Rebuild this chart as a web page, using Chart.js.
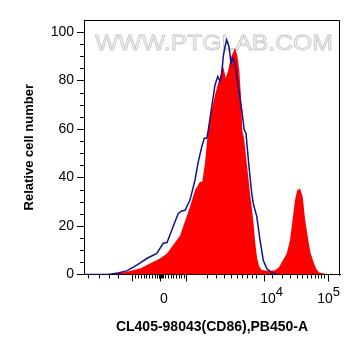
<!DOCTYPE html>
<html>
<head>
<meta charset="utf-8">
<script src="https://cdn.jsdelivr.net/npm/chart.js@4/dist/chart.umd.min.js"></script>
<style>
  html, body { margin: 0; padding: 0; background: #fff; }
  canvas { display: block; }
</style>
</head>
<body>
<canvas id="c" width="361" height="356"></canvas>
<script>
// x positions are in display channels (0..1024) of the biexponential axis
const redX = [0, 96, 136, 172, 224, 264, 304, 332, 356, 384, 404, 424, 444, 464, 473, 484, 495, 508, 524, 537, 548, 553, 560, 567, 577, 587, 595, 604, 613, 621, 628, 633, 641, 651, 664, 677, 684, 692, 700, 710, 724, 744, 764, 780, 796, 811, 824, 831, 844, 853, 864, 875, 884, 897, 906, 917, 928, 940, 964, 992, 1024];
const redY = [0, 0, 0.5, 1.1, 2.5, 4.5, 6.6, 8.7, 12.1, 16, 22, 28, 34.8, 38.3, 38.3, 45.9, 58.3, 66.5, 74.1, 78.9, 83, 87.2, 84.4, 81, 84.4, 89.3, 91.3, 93.4, 90.6, 84.4, 73.4, 59.6, 55.5, 45.9, 33.5, 22.4, 14, 7, 3.5, 2, 1.6, 1.5, 1.8, 3, 6, 8.7, 14.2, 19.7, 30.7, 34.8, 35.5, 32, 23, 14.2, 9, 5.5, 2.5, 0.8, 0.3, 0.1, 0];

const blueX = [0, 96, 136, 171, 211, 251, 291, 317, 332, 351, 364, 377, 391, 404, 424, 444, 457, 471, 481, 491, 497, 511, 524, 535, 544, 551, 557, 564, 571, 580, 588, 595, 604, 611, 620, 631, 641, 648, 655, 664, 671, 677, 691, 704, 717, 731, 751, 771];
const blueY = [0, 0, 0.6, 1.5, 3.9, 6.6, 8.7, 12.9, 13.2, 18.3, 21.8, 25.2, 26.2, 26.5, 30.7, 39, 46.5, 52.7, 56.2, 56.2, 59.6, 69.3, 78.2, 81.7, 79.6, 83, 89.9, 94, 96.8, 94, 87.2, 89.3, 87.2, 81.7, 75.5, 67.9, 59.6, 58.3, 50, 40.3, 33.5, 29.3, 24, 14.2, 5.9, 2.5, 0.7, 0];

const xTickValues = [194, 304, 410, 720, 977];
const xTickLabels = ['', '0', '', '10^4', '10^5'];
const xMinorTicks = [16, 60, 100, 136, 205, 216, 227, 238, 249, 260, 271, 282, 293, 298, 301, 307, 310, 315, 325, 336, 346, 357, 368, 378, 389, 399,
                     492, 528, 560, 588, 612, 632, 652, 672, 688,
                     752, 792, 824, 852, 872, 890, 906, 922, 934, 946, 958];
const yTickValues = [0, 20, 40, 60, 80, 100];
const yMinorTicks = [5, 10, 15, 25, 30, 35, 45, 50, 55, 65, 70, 75, 85, 90, 95];

const xTitle = 'CL405-98043(CD86),PB450-A';
const yTitle = 'Relative cell number';
const watermarkText = 'WWW.PTGLAB.COM';

const FONT = '"Liberation Sans", Arial, Helvetica, sans-serif';

const decor = {
  id: 'decor',
  beforeDatasetsDraw(chart) {
    const {ctx, chartArea} = chart;
    ctx.save();
    ctx.font = '22px ' + FONT;
    const w = ctx.measureText(watermarkText).width;
    const sx = 238 / w;
    ctx.translate((chartArea.left + chartArea.right) / 2 + 2, 50);
    ctx.scale(sx, 1);
    ctx.textAlign = 'center';
    ctx.textBaseline = 'alphabetic';
    ctx.fillStyle = '#f4f4f4';
    ctx.fillText(watermarkText, 0, 0);
    ctx.strokeStyle = '#c8c8c8';
    ctx.lineWidth = 0.8;
    ctx.strokeText(watermarkText, 0, 0);
    ctx.restore();
  },
  afterDraw(chart) {
    const {ctx, chartArea: {left, right, top, bottom}, scales: {x, y}} = chart;
    ctx.save();
    ctx.strokeStyle = '#000';
    ctx.lineWidth = 1;
    // frame
    ctx.beginPath();
    ctx.moveTo(Math.round(left) + 0.5, Math.round(top) + 0.5);
    ctx.lineTo(Math.round(right) - 0.5, Math.round(top) + 0.5);
    ctx.lineTo(Math.round(right) - 0.5, Math.round(bottom) + 0.5);
    ctx.stroke();
    // minor ticks
    ctx.beginPath();
    xMinorTicks.forEach(v => {
      const px = Math.round(x.getPixelForValue(v)) + 0.5;
      ctx.moveTo(px, bottom);
      ctx.lineTo(px, bottom + 4);
    });
    yMinorTicks.forEach(v => {
      const py = Math.round(y.getPixelForValue(v)) + 0.5;
      ctx.moveTo(left - 4, py);
      ctx.lineTo(left, py);
    });
    ctx.stroke();
    // x tick labels with superscripts
    ctx.fillStyle = '#000';
    ctx.textBaseline = 'alphabetic';
    ctx.textAlign = 'left';
    xTickValues.forEach((v, i) => {
      const lab = xTickLabels[i];
      if (!lab) return;
      const parts = lab.split('^');
      const base = parts[0];
      const exp = parts[1] || '';
      const tx = x.getPixelForValue(v);
      ctx.font = '14px ' + FONT;
      const bw = ctx.measureText(base).width;
      ctx.font = '13px ' + FONT;
      const ew = exp ? ctx.measureText(exp).width : 0;
      let lx = tx + 4 - bw / 2;
      if (lx + bw + ew > right) lx = right - bw - ew;
      ctx.font = '14px ' + FONT;
      ctx.fillText(base, lx, 303);
      if (exp) {
        ctx.font = '13px ' + FONT;
        ctx.fillText(exp, lx + bw, 296);
      }
    });
    ctx.restore();
  }
};

new Chart(document.getElementById('c'), {
  type: 'line',
  data: {
    datasets: [
      {
        label: 'Antibody',
        data: blueX.map((v, i) => ({x: v, y: blueY[i]})),
        borderColor: '#13138a',
        borderWidth: 1.5,
        fill: false,
        pointRadius: 0,
        tension: 0,
        order: 0
      },
      {
        label: 'CL405-98043',
        data: redX.map((v, i) => ({x: v, y: redY[i]})),
        borderColor: 'rgba(0,0,0,0)',
        borderWidth: 0,
        backgroundColor: '#ff0000',
        fill: 'origin',
        pointRadius: 0,
        tension: 0,
        order: 1
      }
    ]
  },
  options: {
    responsive: false,
    animation: false,
    devicePixelRatio: 1,
    layout: { padding: { top: 20, right: 21, left: 16, bottom: 16 } },
    plugins: { legend: { display: false }, tooltip: { enabled: false } },
    scales: {
      x: {
        type: 'linear',
        min: 0,
        max: 1024,
        afterBuildTicks: s => { s.ticks = xTickValues.map(v => ({value: v})); },
        afterFit: s => { s.height = 65.5; },
        ticks: { display: false },
        grid: { drawOnChartArea: false, tickLength: 7, tickColor: '#000', color: '#000' },
        border: { color: '#000', width: 1 },
        title: {
          display: true,
          text: xTitle,
          color: '#000',
          font: { family: FONT, size: 14, weight: 'bold' },
          padding: { top: 0, bottom: 4 }
        }
      },
      y: {
        min: 0,
        max: 105,
        afterBuildTicks: s => { s.ticks = yTickValues.map(v => ({value: v})); },
        afterFit: s => { s.width = 68; },
        ticks: { color: '#000', font: { family: FONT, size: 14 }, padding: 3, autoSkip: false },
        grid: { drawOnChartArea: false, tickLength: 7, tickColor: '#000', color: '#000' },
        border: { color: '#000', width: 1 },
        title: {
          display: true,
          text: yTitle,
          color: '#000',
          font: { family: FONT, size: 13, weight: 'bold' },
          padding: { top: 6, bottom: 0 }
        }
      }
    }
  },
  plugins: [decor]
});
</script>
</body>
</html>
